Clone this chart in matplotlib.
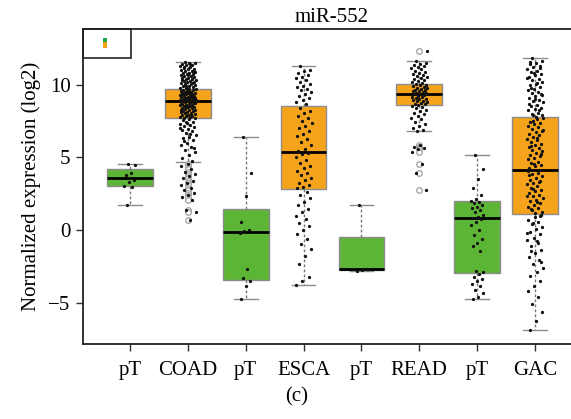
import matplotlib
matplotlib.use("Agg")
import matplotlib.pyplot as plt
from matplotlib.patches import Rectangle
import numpy as np

# ---------------- data ----------------
categories = ["pT", "COAD", "pT", "ESCA", "pT", "READ", "pT", "GAC"]
group_kind = ["normal", "tumor", "normal", "tumor", "normal", "tumor", "normal", "tumor"]

q1 = [3.04, 7.72, -3.44, 2.80, -2.75, 8.59, -2.98, 1.10]
med = [3.55, 8.89, -0.16, 5.38, -2.68, 9.35, 0.80, 4.10]
q3 = [4.19, 9.74, 1.42, 8.52, -0.46, 10.08, 2.02, 7.77]
whislo = [1.72, 4.69, -4.77, -3.78, -2.82, 6.80, -4.74, -6.87]
whishi = [4.54, 11.60, 6.41, 11.29, 1.72, 11.64, 5.13, 11.82]

fliers = [
    [],
    [4.55, 4.38, 4.21, 4.02, 3.86, 3.71, 3.55, 3.38, 3.22, 3.07, 2.91, 2.74,
     2.58, 2.41, 2.24, 2.08, 1.35, 1.21, 0.69],
    [],
    [],
    [],
    [12.32, 5.82, 5.71, 5.63, 5.55, 5.34, 4.54, 3.92, 2.75],
    [],
    [],
]

pts_pT1 = [4.54, 4.50, 3.95, 3.78, 3.42, 3.30, 3.02, 2.95, 1.72]
pts_COAD = [
    11.58, 11.52, 11.47, 11.41, 11.36, 11.33, 11.27, 11.21, 11.18, 11.12, 11.07, 11.03,
    10.97, 10.94, 10.88, 10.83, 10.79, 10.74, 10.71, 10.66, 10.61, 10.57, 10.53, 10.49,
    10.44, 10.41, 10.37, 10.32, 10.29, 10.24, 10.19, 10.16, 10.11, 10.07, 10.03, 9.99,
    9.94, 9.91, 9.86, 9.81, 9.77, 11.44, 11.24, 10.91, 10.68, 10.35, 10.13, 9.89,
    9.72, 9.69, 9.66, 9.61, 9.58, 9.55, 9.51, 9.48, 9.46, 9.43, 9.39, 9.37, 9.34, 9.31,
    9.28, 9.26, 9.22, 9.19, 9.17, 9.14, 9.12, 9.09, 9.07, 9.04, 9.02, 8.99, 8.97, 8.95,
    8.93, 8.91, 9.63, 9.41, 9.24, 9.08, 8.96, 9.53, 9.35, 9.15,
    8.87, 8.84, 8.81, 8.78, 8.75, 8.71, 8.68, 8.64, 8.61, 8.58, 8.54, 8.51, 8.47, 8.44,
    8.41, 8.37, 8.33, 8.29, 8.26, 8.22, 8.18, 8.15, 8.11, 8.07, 8.03, 7.99, 7.95, 7.92,
    7.88, 7.84, 7.81, 7.77, 7.74, 8.73, 8.49, 8.24, 7.97, 8.56,
    7.68, 7.61, 7.55, 7.47, 7.39, 7.32, 7.24, 7.15, 7.07, 6.98, 6.88, 6.79, 6.67, 6.55,
    6.43, 6.31, 6.18, 6.02, 5.87, 5.71, 5.54, 5.36, 5.17, 4.96, 4.72, 7.43, 7.02, 6.61,
    6.12, 5.62,
    4.55, 4.38, 4.21, 4.02, 3.86, 3.71, 3.55, 3.38, 3.22, 3.07, 2.91, 2.74, 2.58, 2.41,
    2.24, 2.08, 1.35, 1.21, 0.69,
]
pts_pT3 = [6.41, 3.92, 2.34, 0.57, 0.00, -0.10, -0.20, -2.68, -3.30, -3.50, -3.85, -4.77]
pts_ESCA = [
    11.29, 11.05, 10.92, 10.81, 10.66, 10.52, 10.44, 10.31, 10.18, 10.05, 9.93, 9.84,
    9.71, 9.62, 9.48, 9.36, 9.21, 9.08, 8.94, 8.81, 8.67,
    8.41, 8.22, 8.05, 7.86, 7.71, 7.52, 7.38, 7.19, 7.02, 6.84, 6.63, 6.47, 6.29, 6.05,
    5.83, 5.61, 5.44,
    5.33, 5.21, 5.02, 4.83, 4.61, 4.44, 4.27, 4.09, 3.92, 3.76, 3.58, 3.41, 3.27, 3.12,
    2.98, 2.86,
    2.64, 2.41, 2.18, 1.93, 1.71, 1.45, 1.22, 0.98, 0.74, 0.51, 0.26, 0.02, -0.31, -0.62,
    -0.95, -1.33, -1.78, -2.34, -3.21, -3.48, -3.78,
]
pts_pT5 = [1.72, -2.68, -2.75, -2.82]
pts_READ = [
    11.64, 11.52, 11.43, 11.35, 11.28, 11.20, 11.13, 11.06, 10.98, 10.91, 10.84, 10.77,
    10.69, 10.61, 10.53, 10.46, 10.38, 10.31, 10.24, 10.17, 10.11,
    10.06, 10.01, 9.96, 9.91, 9.86, 9.81, 9.77, 9.72, 9.67, 9.63, 9.58, 9.54, 9.49, 9.45,
    9.41, 9.37,
    9.33, 9.29, 9.24, 9.19, 9.15, 9.10, 9.05, 9.01, 8.96, 8.91, 8.86, 8.81, 8.76, 8.71,
    8.66, 8.61,
    8.54, 8.46, 8.37, 8.28, 8.19, 8.09, 7.98, 7.87, 7.74, 7.61, 7.47, 7.33, 7.18, 7.02,
    6.88, 6.80,
    12.32, 5.82, 5.71, 5.63, 5.55, 5.34, 4.54, 3.92, 2.75,
]
pts_pT7 = [
    5.13, 4.21, 3.52, 2.87, 2.41, 2.12, 1.98, 1.93, 1.85, 1.72, 1.61, 1.52, 1.38, 1.21,
    1.06, 0.92, 0.81, 0.74, 0.55, 0.31, 0.02, -0.32, -0.61, -0.88, -1.12, -1.46, -2.81,
    -2.92, -3.05, -3.21, -3.38, -3.52, -3.71, -3.89, -4.12, -4.35, -4.62, -4.74,
]
pts_GAC = [
    11.82, 11.66, 11.51, 11.43, 11.31, 11.24, 11.09, 10.97, 10.89, 10.72, 10.64, 10.55,
    10.38, 10.31, 10.22, 10.06, 9.98, 9.87, 9.73, 9.66, 9.51, 9.44, 9.29, 9.21, 9.12,
    8.96, 8.88, 8.79, 8.62, 8.57, 8.41, 8.33, 8.24, 8.09, 8.01, 7.89, 7.81,
    11.57, 11.17, 10.81, 10.47, 10.14, 9.79, 9.36, 9.03, 8.69, 8.28, 7.94,
    7.73, 7.62, 7.47, 7.39, 7.31, 7.14, 7.08, 6.97, 6.82, 6.74, 6.59, 6.53, 6.41, 6.26,
    6.19, 6.04, 5.93, 5.88, 5.71, 5.63, 5.49, 5.42, 5.27, 5.16, 5.09, 4.94, 4.87, 4.71,
    4.63, 4.48, 4.39, 4.24, 4.16, 7.52, 6.88, 6.33, 5.78, 5.21, 4.56,
    4.03, 3.91, 3.84, 3.69, 3.58, 3.46, 3.37, 3.22, 3.14, 3.01, 2.89, 2.77, 2.68, 2.53,
    2.44, 2.31, 2.19, 2.06, 1.97, 1.84, 1.72, 1.61, 1.49, 1.38, 1.27, 1.16, 3.76, 3.29,
    2.83, 2.37, 1.91, 1.44,
    1.02, 0.88, 0.71, 0.57, 0.39, 0.22, 0.06, -0.13, -0.31, -0.52, -0.69, -0.91, -1.12,
    -1.36, -1.58, -1.83, -2.07, -2.34, -2.62, -2.91, -3.18, -3.52, -3.87, -4.21, -4.63,
    -5.12, -5.68, -6.24, -6.87, 0.94, 0.47, -0.23, -0.78, -1.47, -2.19,
]
points = [pts_pT1, pts_COAD, pts_pT3, pts_ESCA, pts_pT5, pts_READ, pts_pT7, pts_GAC]

title = "miR-552"
ylabel = "Normalized expression (log2)"
caption = "(c)"
yticks = [-5, 0, 5, 10]

# ---------------- style ----------------
color_map = {"normal": "#5db535", "tumor": "#f5a31b"}
edge_col = "#8c8c8c"
serif = ["Liberation Serif", "DejaVu Serif"]
plt.rcParams["font.family"] = serif

W, H = 571, 419
fig = plt.figure(figsize=(W / 100, H / 100), dpi=100)
ax_left, ax_right, ax_top, ax_bot = 83, 581, 29, 344
ax = fig.add_axes([ax_left / W, 1 - ax_bot / H, (ax_right - ax_left) / W, (ax_bot - ax_top) / H])

positions = np.arange(1, len(categories) + 1)
stats = []
for i in range(len(categories)):
    stats.append(dict(med=med[i], q1=q1[i], q3=q3[i], whislo=whislo[i],
                      whishi=whishi[i], fliers=fliers[i], label=categories[i]))

bp = ax.bxp(stats, positions=positions, widths=0.79, capwidths=0.41,
            patch_artist=True, showfliers=True,
            boxprops=dict(edgecolor=edge_col, linewidth=1.0),
            medianprops=dict(color="black", linewidth=2.0),
            whiskerprops=dict(color="#777777", linewidth=1.0, linestyle=(0, (2, 1.6))),
            capprops=dict(color=edge_col, linewidth=1.0),
            flierprops=dict(marker="o", markerfacecolor="white", markeredgecolor="#a0a0a0",
                            markersize=4.0, markeredgewidth=0.9))
for patch, kind in zip(bp["boxes"], group_kind):
    patch.set_facecolor(color_map[kind])

# jittered points (deterministic low-discrepancy offsets)
for i, vals in enumerate(points):
    n = len(vals)
    w = 0.14 if n > 60 else 0.11
    offs = ((np.arange(n) * 0.6180339887 + 0.31) % 1.0 - 0.5) * 2 * w
    ax.scatter(positions[i] + offs, vals, s=5.5, color="#111111", zorder=5, linewidths=0)

ax.set_xlim(0.188, 8.795)
ax.set_ylim(-7.85, 13.84)
ax.set_xticks(positions)
ax.set_xticklabels(categories, fontsize=15)
ax.set_yticks(yticks)
ax.set_yticklabels(["\u22125", "0", "5", "10"], fontsize=15)
ax.tick_params(axis="both", direction="out", length=5, width=1.0, color="#333333", pad=4)
ax.tick_params(axis="x", pad=7)
ax.set_ylabel(ylabel, fontsize=15, labelpad=5)
for s in ["left", "bottom", "top"]:
    ax.spines[s].set_linewidth(1.3)
    ax.spines[s].set_color("#222222")
ax.spines["right"].set_visible(False)
ax.set_title(title, fontsize=15, pad=5)

# small legend box in top-left corner
trans = ax.transAxes
def px_to_ax(x, y):
    return ((x - ax_left) / (ax_right - ax_left), (ax_bot - y) / (ax_bot - ax_top))
x0, y0 = px_to_ax(83, 58)
x1, y1 = px_to_ax(131, 29)
ax.add_patch(Rectangle((x0, y0), x1 - x0, y1 - y0, transform=trans, fill=False,
                       edgecolor="#222222", linewidth=1.2, zorder=6, clip_on=False))
gx0, gy0 = px_to_ax(102.5, 42)
gx1, gy1 = px_to_ax(107, 38)
ax.add_patch(Rectangle((gx0, gy0), gx1 - gx0, gy1 - gy0, transform=trans,
                       facecolor="#1aa84a", edgecolor="none", zorder=7))
ox0, oy0 = px_to_ax(102.5, 48)
ox1, oy1 = px_to_ax(107, 42)
ax.add_patch(Rectangle((ox0, oy0), ox1 - ox0, oy1 - oy0, transform=trans,
                       facecolor="#f7a11a", edgecolor="none", zorder=7))

fig.text(297 / W, 1 - 397 / H, caption, ha="center", va="center", fontsize=15)

fig.savefig("out.png", dpi=100)
